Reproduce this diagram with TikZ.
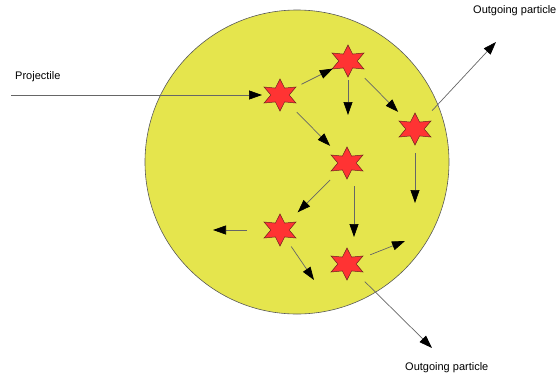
\documentclass[tikz,border=0pt]{standalone}
\usepackage{fontspec}
\setmainfont{Liberation Sans}
\usetikzlibrary{arrows.meta, shapes.geometric}
\definecolor{nucleusfill}{HTML}{E5E54D}
\definecolor{hitred}{HTML}{FF3333}
\definecolor{hitline}{HTML}{6B2020}

\begin{document}
\begin{tikzpicture}[
  x=1pt, y=-1pt,
  nucleus/.style={
    circle, minimum size=304pt, inner sep=0pt,
    fill=nucleusfill, draw=black!65, line width=0.6pt,
  },
  hit/.style={
    star, star points=6, star point ratio=2, minimum size=32pt,
    inner sep=0pt, xscale=1.15, fill=hitred, draw=hitline, line width=0.5pt,
  },
  track/.style={
    draw=black!60, line width=0.7pt,
    -{Triangle[length=13pt, width=9pt, color=black]},
  },
  tag/.style={font=\fontsize{11}{13}\selectfont, anchor=west, inner sep=0pt},
]
\useasboundingbox (0,0) rectangle (558,376);

% Nucleus
\node[nucleus] (core) at (297,162) {};

% Collisions
\node[hit] (s1) at (280,95) {};
\node[hit] (s2) at (348,61) {};
\node[hit] (s3) at (415,129) {};
\node[hit] (s4) at (347,163) {};
\node[hit] (s5) at (280,230) {};
\node[hit] (s6) at (347,264) {};

% Free ends
\coordinate (src) at (11,95);
\coordinate (out1) at (496,42);
\coordinate (out2) at (432,348);
\coordinate (d2) at (348,115);
\coordinate (d3) at (415,203);
\coordinate (d4) at (354,237);
\coordinate (l5) at (213,230);
\coordinate (r5) at (314,280);
\coordinate (u6) at (405,241);

% Tracks
\draw[track, shorten >=18pt] (src) -- (s1.center);
\draw[track, shorten <=24pt, shorten >=17pt] (s1.center) -- (s2.center);
\draw[track, shorten <=24pt, shorten >=24pt] (s1.center) -- (s4.center);
\draw[track, shorten <=24pt, shorten >=24pt] (s2.center) -- (s3.center);
\draw[track, shorten <=19pt] (s2.center) -- (d2);
\draw[track, shorten <=25pt] (s3.center) -- (out1);
\draw[track, shorten <=24pt] (s3.center) -- (d3);
\draw[track, shorten <=24pt, shorten >=25pt] (s4.center) -- (s5.center);
\draw[track, shorten <=23pt] (s4.center -| d4) -- (d4);
\draw[track, shorten <=33pt] (s5.center) -- (l5);
\draw[track, shorten <=20pt] (s5.center) -- (r5);
\draw[track, shorten <=25pt] (s6.center) -- (u6);
\draw[track, shorten <=25pt] (s6.center) -- (out2);

% Labels
\node[tag] (projlbl) at (15,77) {Projectile};
\node[tag] (outlbl1) at (473,11) {Outgoing particle};
\node[tag] (outlbl2) at (405,368) {Outgoing particle};

\end{tikzpicture}
\end{document}
